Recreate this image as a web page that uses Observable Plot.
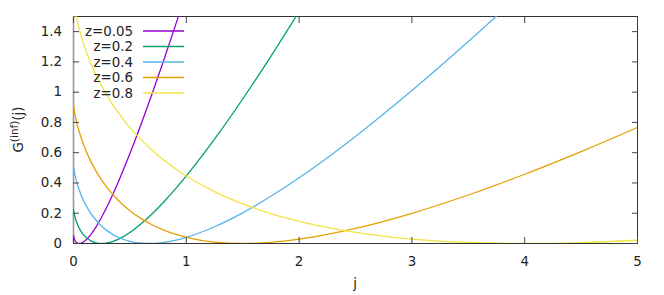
<!DOCTYPE html>
<html><head><meta charset="utf-8">
<script src="https://cdn.jsdelivr.net/npm/d3@7"></script>
<script src="https://cdn.jsdelivr.net/npm/@observablehq/plot@0.6"></script>
<style>html,body{margin:0;padding:0;background:#fff} svg{display:block}</style>
</head><body><div id="chart"></div>
<script>
// sample positions along j
const jValues = [0, 0.01, 0.02, 0.035, 0.05, 0.075, 0.1, 0.15, 0.2, 0.25, 0.3, 0.4, 0.5, 0.6, 0.7, 0.8, 0.9, 1.0, 1.25, 1.5, 1.75, 2, 2.5, 3, 3.5, 4, 4.5, 5];
// G^(inf)(j) read for each z (null = off the chart)
const gZ005 = [0.0513, 0.0252, 0.0128, 0.0032, 0.0001, 0.0040, 0.0158, 0.0554, 0.1098, 0.1747, 0.2478, 0.4120, 0.5944, 0.7902, 0.9966, 1.2113, 1.4331, 1.6607, null, null, null, null, null, null, null, null, null, null];
const gZ02 = [0.2231, 0.1831, 0.1569, 0.1265, 0.1026, 0.0718, 0.0490, 0.0193, 0.0044, 0.0000, 0.0037, 0.0293, 0.0731, 0.1303, 0.1980, 0.2742, 0.3573, 0.4463, 0.6893, 0.9548, 1.2371, 1.5325, null, null, null, null, null, null];
const gZ04 = [0.5108, 0.4639, 0.4307, 0.3900, 0.3556, 0.3075, 0.2674, 0.2030, 0.1534, 0.1144, 0.0835, 0.0398, 0.0142, 0.0021, 0.0005, 0.0073, 0.0212, 0.0408, 0.1105, 0.2027, 0.3118, 0.4339, 0.7076, 1.0104, 1.3342, 1.6740, null, null];
const gZ06 = [0.9163, 0.8653, 0.8281, 0.7812, 0.7408, 0.6826, 0.6323, 0.5476, 0.4778, 0.4185, 0.3673, 0.2830, 0.2169, 0.1643, 0.1221, 0.0884, 0.0617, 0.0408, 0.0092, 0.0000, 0.0077, 0.0284, 0.0994, 0.1994, 0.3205, 0.4576, 0.6073, 0.7671];
const gZ08 = [1.6094, 1.5556, 1.5155, 1.4643, 1.4196, 1.3542, 1.2967, 1.1976, 1.1134, 1.0397, 0.9741, 0.8611, 0.7662, 0.6848, 0.6139, 0.5514, 0.4959, 0.4463, 0.3427, 0.2616, 0.1974, 0.1462, 0.0734, 0.0295, 0.0068, 0.0000, 0.0058, 0.0218];

const seriesLabels = ["z=0.05", "z=0.2", "z=0.4", "z=0.6", "z=0.8"];
const seriesValues = [gZ005, gZ02, gZ04, gZ06, gZ08];
const seriesColors = ["#9400d3", "#009e73", "#56b4e9", "#e69f00", "#f0e442"];
const xTicks = [0, 1, 2, 3, 4, 5];
const xTickLabels = ["0", "1", "2", "3", "4", "5"];
const yTicks = [0, 0.2, 0.4, 0.6, 0.8, 1, 1.2, 1.4];
const yTickLabels = ["0", "0.2", "0.4", "0.6", "0.8", "1", "1.2", "1.4"];
const xLabel = "j";

const rows = [];
seriesLabels.forEach((s, i) => {
  seriesValues[i].forEach((v, k) => {
    if (v !== null) rows.push({series: s, j: jValues[k], g: v});
  });
});

const W = 664, H = 295, ML = 73, MR = 27, MT = 16, MB = 52;
const FONT = "DejaVu Sans";
const FS = 13.4;

const chart = Plot.plot({
  width: W, height: H,
  marginLeft: ML, marginRight: MR, marginTop: MT, marginBottom: MB,
  style: {fontFamily: FONT, fontSize: FS + "px", color: "#222", background: "#fff", overflow: "visible"},
  x: {domain: [0, 5]},
  y: {domain: [0, 1.5]},
  color: {domain: seriesLabels, range: seriesColors},
  marks: [
    Plot.frame({stroke: "#333", strokeWidth: 1}),
    Plot.ruleX([0], {stroke: "#999", strokeWidth: 1.6}),
    Plot.line(rows, {x: "j", y: "g", z: "series", stroke: "series", strokeWidth: 1.3, curve: "monotone-x", clip: true}),
    Plot.axisX(xTicks, {anchor: "bottom", tickSize: -6, tickPadding: 19, tickFormat: (d, i) => xTickLabels[i], label: null, stroke: "#444", fill: "#222"}),
    Plot.axisX(xTicks, {anchor: "top", tickSize: -6, tickFormat: () => "", label: null, stroke: "#444"}),
    Plot.axisY(yTicks, {anchor: "left", tickSize: -6, tickPadding: 17.5, tickFormat: (d, i) => yTickLabels[i], label: null, stroke: "#444", fill: "#222"}),
    Plot.axisY(yTicks, {anchor: "right", tickSize: -6, tickFormat: () => "", label: null, stroke: "#444"})
  ]
});
document.getElementById("chart").appendChild(chart);

const svg = d3.select(chart);
// x axis label
svg.append("text").attr("x", ML + (W - ML - MR) / 2).attr("y", 288)
  .attr("text-anchor", "middle").attr("font-family", FONT).attr("font-size", FS).attr("fill", "#222")
  .text(xLabel);
// y axis label with superscript
const yl = svg.append("text")
  .attr("transform", `translate(23,${MT + (H - MT - MB) / 2}) rotate(-90)`)
  .attr("text-anchor", "middle").attr("font-family", FONT).attr("font-size", FS).attr("fill", "#222");
yl.append("tspan").text("G");
yl.append("tspan").attr("dy", -5).attr("font-size", 10.5).text("(inf)");
yl.append("tspan").attr("dy", 5).text("(j)");

// key
const key = svg.append("g");
seriesLabels.forEach((s, i) => {
  const yk = 31 + i * 15.5;
  key.append("text").attr("x", 133).attr("y", yk).attr("dy", "0.35em")
    .attr("text-anchor", "end").attr("font-family", FONT).attr("font-size", FS).attr("fill", "#222").text(s);
  key.append("line").attr("x1", 143).attr("x2", 184).attr("y1", yk).attr("y2", yk)
    .attr("stroke", seriesColors[i]).attr("stroke-width", 1.3);
});
</script>
</body></html>
